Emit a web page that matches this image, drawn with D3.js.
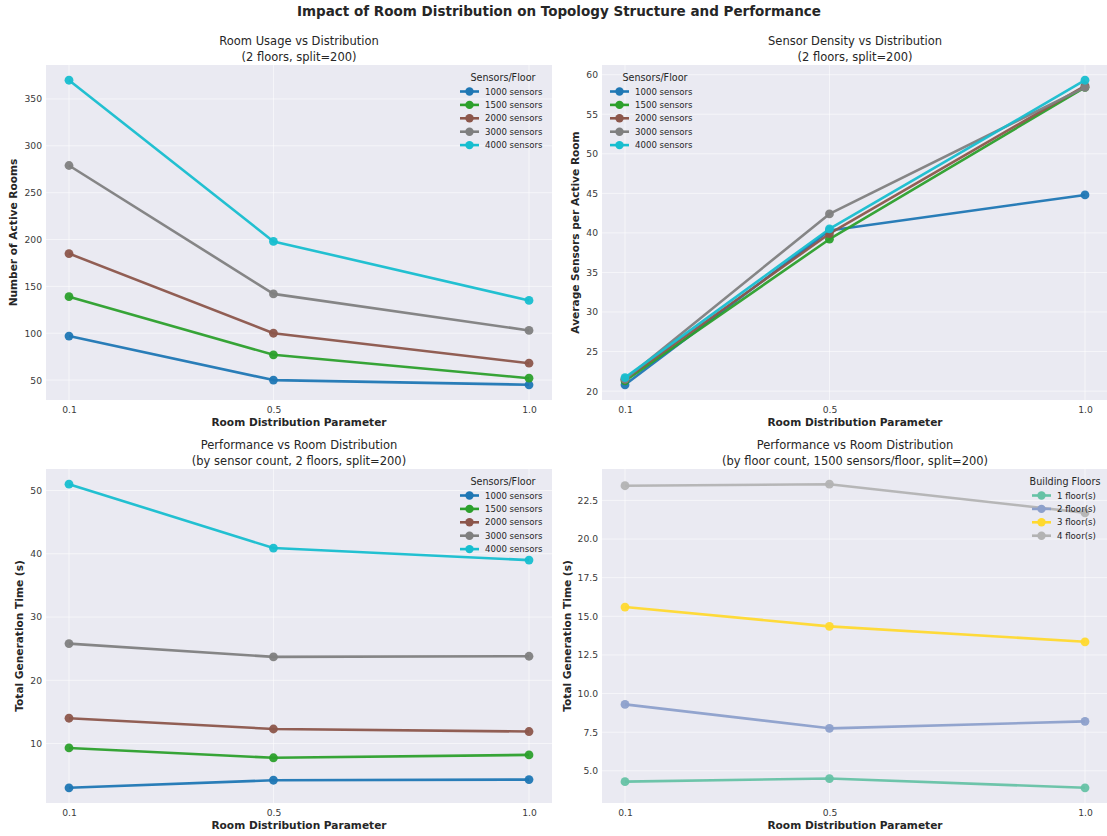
<!DOCTYPE html>
<html>
<head>
<meta charset="utf-8">
<script src="https://cdn.jsdelivr.net/npm/d3@7"></script>
<style>
  html, body { margin: 0; padding: 0; background: #ffffff; }
  svg { display: block; font-family: "DejaVu Sans", sans-serif; }
</style>
</head>
<body>
<svg id="chart" width="1107" height="836"></svg>
<script>
// ---------------- data ----------------
const xValues = [0.1, 0.5, 1.0];
const xTickLabels = ["0.1", "0.5", "1.0"];

const sensorLabels = ["1000 sensors", "1500 sensors", "2000 sensors", "3000 sensors", "4000 sensors"];
const sensorColors = ["#1f77b4", "#2ca02c", "#8c564b", "#7f7f7f", "#17becf"];

const floorLabels = ["1 floor(s)", "2 floor(s)", "3 floor(s)", "4 floor(s)"];
const floorColors = ["#66c2a5", "#8da0cb", "#ffd92f", "#b3b3b3"];

const activeRooms = [
  [97, 50, 45],
  [139, 77, 52],
  [185, 100, 68],
  [279, 142, 103],
  [370, 198, 135]
];
const sensorDensity = [
  [20.8, 40.3, 44.8],
  [21.3, 39.2, 58.4],
  [21.5, 39.9, 58.6],
  [21.5, 42.4, 58.4],
  [21.7, 40.5, 59.3]
];
const genTimeBySensors = [
  [3.0, 4.2, 4.3],
  [9.3, 7.75, 8.2],
  [14.0, 12.3, 11.9],
  [25.8, 23.7, 23.8],
  [51.0, 40.9, 39.0]
];
const genTimeByFloors = [
  [4.3, 4.5, 3.9],
  [9.3, 7.75, 8.2],
  [15.6, 14.35, 13.35],
  [23.45, 23.55, 21.7]
];

const yTicksRooms = [50, 100, 150, 200, 250, 300, 350];
const yTicksDensity = [20, 25, 30, 35, 40, 45, 50, 55, 60];
const yTicksSensorsTime = [10, 20, 30, 40, 50];
const yTicksFloorsTime = [5.0, 7.5, 10.0, 12.5, 15.0, 17.5, 20.0, 22.5];

const mainTitle = "Impact of Room Distribution on Topology Structure and Performance";
const xLabel = "Room Distribution Parameter";

// ---------------- layout ----------------
const svg = d3.select("#chart");
const W = 1107, H = 836;
const textColor = "#262626";

svg.append("text")
  .attr("x", 559).attr("y", 16)
  .attr("text-anchor", "middle")
  .attr("font-size", 13.5).attr("font-weight", "bold")
  .attr("fill", textColor)
  .text(mainTitle);

const panels = [
  {
    left: 46, top: 65, width: 506, height: 335,
    titles: ["Room Usage vs Distribution", "(2 floors, split=200)"],
    ylabel: "Number of Active Rooms",
    series: activeRooms, labels: sensorLabels, colors: sensorColors,
    yTicks: yTicksRooms, tickFmt: d3.format("d"),
    legendTitle: "Sensors/Floor", legendPos: "right"
  },
  {
    left: 602, top: 65, width: 506, height: 335,
    titles: ["Sensor Density vs Distribution", "(2 floors, split=200)"],
    ylabel: "Average Sensors per Active Room",
    series: sensorDensity, labels: sensorLabels, colors: sensorColors,
    yTicks: yTicksDensity, tickFmt: d3.format("d"),
    legendTitle: "Sensors/Floor", legendPos: "left"
  },
  {
    left: 46, top: 469, width: 506, height: 334,
    titles: ["Performance vs Room Distribution", "(by sensor count, 2 floors, split=200)"],
    ylabel: "Total Generation Time (s)",
    series: genTimeBySensors, labels: sensorLabels, colors: sensorColors,
    yTicks: yTicksSensorsTime, tickFmt: d3.format("d"),
    legendTitle: "Sensors/Floor", legendPos: "right"
  },
  {
    left: 602, top: 469, width: 506, height: 334,
    titles: ["Performance vs Room Distribution", "(by floor count, 1500 sensors/floor, split=200)"],
    ylabel: "Total Generation Time (s)",
    series: genTimeByFloors, labels: floorLabels, colors: floorColors,
    yTicks: yTicksFloorsTime, tickFmt: d3.format(".1f"),
    legendTitle: "Building Floors", legendPos: "right4"
  }
];

function paddedDomain(lo, hi) {
  const m = (hi - lo) * 0.05;
  return [lo - m, hi + m];
}

panels.forEach(p => {
  const g = svg.append("g").attr("transform", `translate(${p.left},${p.top})`);

  const x = d3.scaleLinear().domain(paddedDomain(d3.min(xValues), d3.max(xValues))).range([0, p.width]);
  const allY = p.series.flat();
  const y = d3.scaleLinear().domain(paddedDomain(d3.min(allY), d3.max(allY))).range([p.height, 0]);

  // background
  g.append("rect").attr("width", p.width).attr("height", p.height).attr("fill", "#eaeaf2");

  // grid
  g.append("g").selectAll("line.gy").data(p.yTicks).join("line")
    .attr("x1", 0).attr("x2", p.width)
    .attr("y1", d => y(d)).attr("y2", d => y(d))
    .attr("stroke", "#ffffff").attr("stroke-opacity", 0.55).attr("stroke-width", 1);
  g.append("g").selectAll("line.gx").data(xValues).join("line")
    .attr("y1", 0).attr("y2", p.height)
    .attr("x1", d => x(d)).attr("x2", d => x(d))
    .attr("stroke", "#ffffff").attr("stroke-opacity", 0.55).attr("stroke-width", 1);

  // axes
  const xAxis = d3.axisBottom(x).tickValues(xValues).tickFormat((d, i) => xTickLabels[i]).tickSize(0).tickPadding(6);
  const xg = g.append("g").attr("transform", `translate(0,${p.height})`).call(xAxis);
  const yAxis = d3.axisLeft(y).tickValues(p.yTicks).tickFormat(p.tickFmt).tickSize(0).tickPadding(4);
  const yg = g.append("g").call(yAxis);
  [xg, yg].forEach(a => {
    a.select(".domain").remove();
    a.selectAll("text").attr("font-size", 9.2).attr("fill", "#3a3a3a").attr("font-family", "DejaVu Sans");
  });

  // axis labels
  g.append("text")
    .attr("x", p.width / 2).attr("y", p.height + 26)
    .attr("text-anchor", "middle")
    .attr("font-size", 10.6).attr("font-weight", "bold").attr("fill", textColor)
    .text(xLabel);

  let minX = 0;
  yg.selectAll("text").each(function () {
    const b = this.getBBox();
    minX = Math.min(minX, b.x);
  });
  g.append("text")
    .attr("transform", `translate(${minX - 7},${p.height / 2}) rotate(-90)`)
    .attr("text-anchor", "middle")
    .attr("font-size", 10.6).attr("font-weight", "bold").attr("fill", textColor)
    .text(p.ylabel);

  // titles
  const cx = p.left < 300 ? p.width / 2 : 506 / 2;
  p.titles.forEach((t, i) => {
    g.append("text")
      .attr("x", cx).attr("y", -20 + i * 15.5)
      .attr("text-anchor", "middle")
      .attr("font-size", 11.5).attr("fill", textColor)
      .text(t);
  });

  // lines
  const line = d3.line().x((d, i) => x(xValues[i])).y(d => y(d));
  p.series.forEach((s, k) => {
    g.append("path").datum(s)
      .attr("d", line)
      .attr("fill", "none")
      .attr("stroke", p.colors[k])
      .attr("stroke-width", 2.6)
      .attr("stroke-opacity", 0.95)
      .attr("stroke-linejoin", "round");
    g.append("g").selectAll("circle").data(s).join("circle")
      .attr("cx", (d, i) => x(xValues[i]))
      .attr("cy", d => y(d))
      .attr("r", 4.4)
      .attr("fill", p.colors[k])
      .attr("fill-opacity", 0.95);
  });

  // legend
  let handleX, titleX;
  if (p.legendPos === "left") { handleX = 8; titleX = 53; }
  else if (p.legendPos === "right4") { handleX = 430; titleX = 463; }
  else { handleX = 414; titleX = 457; }
  const lg = g.append("g");
  lg.append("text")
    .attr("x", titleX).attr("y", 16)
    .attr("text-anchor", "middle")
    .attr("font-size", 9.6).attr("fill", textColor)
    .text(p.legendTitle);
  p.labels.forEach((lab, k) => {
    const yy = 26.5 + k * 13.4;
    lg.append("line")
      .attr("x1", handleX).attr("x2", handleX + 19)
      .attr("y1", yy).attr("y2", yy)
      .attr("stroke", p.colors[k]).attr("stroke-width", 2.6);
    lg.append("circle")
      .attr("cx", handleX + 9.5).attr("cy", yy).attr("r", 4.2)
      .attr("fill", p.colors[k]);
    lg.append("text")
      .attr("x", handleX + 25).attr("y", yy + 3)
      .attr("font-size", 8.6).attr("fill", textColor)
      .text(lab);
  });
});
</script>
</body>
</html>
